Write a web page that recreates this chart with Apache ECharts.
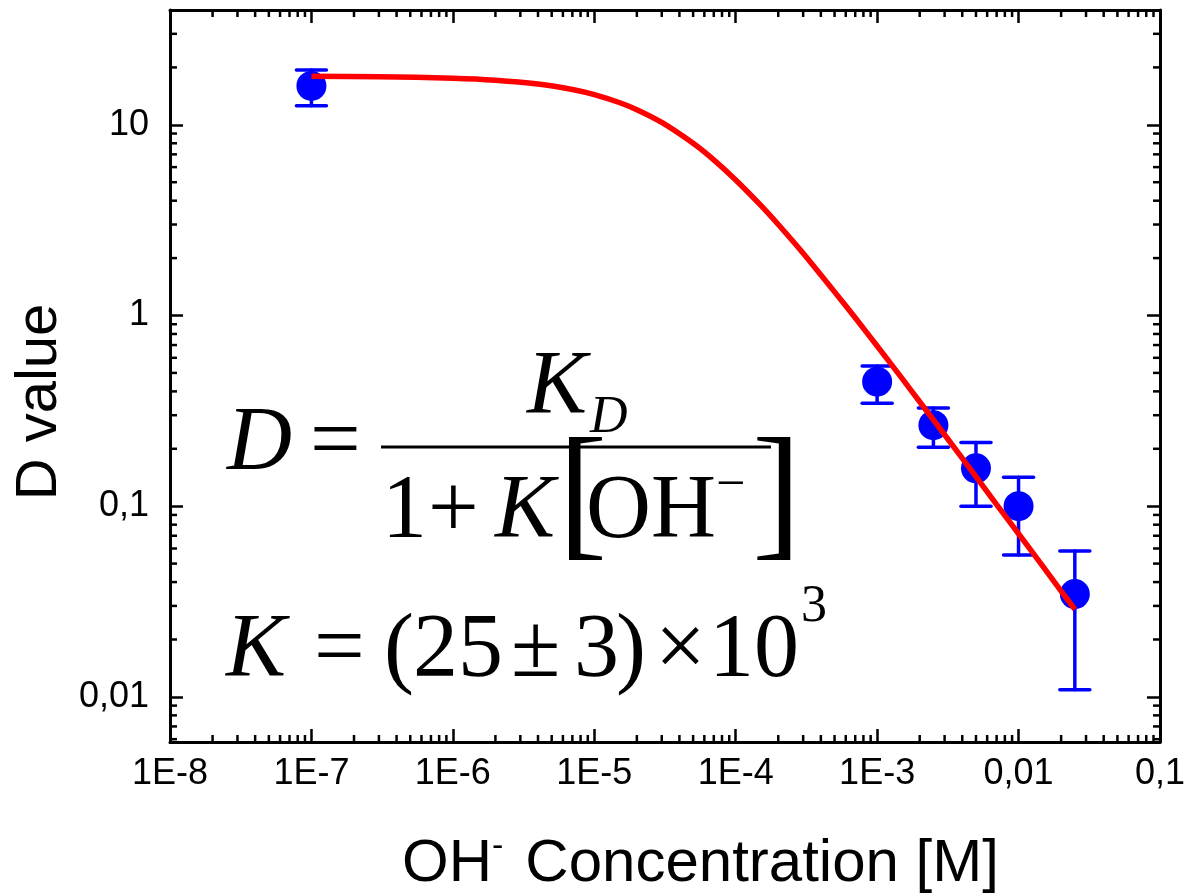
<!DOCTYPE html>
<html>
<head>
<meta charset="UTF-8">
<title>D value vs OH- concentration</title>
<script src="https://cdn.jsdelivr.net/npm/echarts@6/dist/echarts.min.js"></script>
<style>
  html, body { margin: 0; padding: 0; background: #fff; }
  #main { width: 1188px; height: 895px; }
</style>
</head>
<body>
<div id="main"></div>
<script type="text/javascript">
// measured points: concentration [M], D value, lower and upper end of the error bar
var concentration = [1e-7, 1e-3, 2.5e-3, 5e-3, 1e-2, 2.5e-2];
var dValue = [16.0, 0.45, 0.266, 0.158, 0.100, 0.0346];
var dLow = [12.6, 0.347, 0.204, 0.100, 0.0554, 0.0109];
var dHigh = [19.4, 0.543, 0.327, 0.216, 0.142, 0.0583];

// red fit line
var fitX = [1e-7, 3e-7, 1e-6, 2e-6, 4e-6, 7e-6, 1e-5, 1.5e-5, 2e-5, 3e-5, 5e-5, 7e-5, 1e-4, 1.5e-4,
            2e-4, 3e-4, 5e-4, 7e-4, 1e-3, 1.5e-3, 2e-3, 3e-3, 5e-3, 7e-3, 1e-2, 1.5e-2, 2e-2, 2.5e-2];
var fitY = [17.96, 17.87, 17.56, 17.14, 16.36, 15.32, 14.4, 13.09, 12.0, 10.29, 8.0, 6.55, 5.14, 3.79,
            3.0, 2.12, 1.33, 0.973, 0.692, 0.468, 0.353, 0.237, 0.143, 0.102, 0.0717, 0.0479, 0.0359, 0.0288];

// tick labels, one per decade from the lowest one
var xTickLabels = ['1E-8', '1E-7', '1E-6', '1E-5', '1E-4', '1E-3', '0,01', '0,1'];
var yTickLabels = ['0,01', '0,1', '1', '10'];
var minorSteps = [2, 3, 4, 5, 6, 7, 8, 9];

var X_MIN = 1e-8, X_MAX = 0.1;
var Y_MIN = 0.0058, Y_MAX = 40;

var sans = '"Liberation Sans", Arial, Helvetica, sans-serif';
var serif = '"Liberation Serif", "Times New Roman", serif';

function decadeLabel(labels, firstExp) {
    return function (v) {
        var e = Math.log10(v);
        var r = Math.round(e);
        if (Math.abs(e - r) > 1e-6) return '';
        return labels[r - firstExp] || '';
    };
}

function logAxis(pos, min, max, labels, firstExp, margin) {
    return {
        type: 'log', logBase: 10, position: pos, min: min, max: max, splitNumber: 10,
        axisLine: { show: true, onZero: false, lineStyle: { color: '#000', width: 3 } },
        axisTick: { show: true, inside: true, length: 13, lineStyle: { color: '#000', width: 2.5 } },
        axisLabel: {
            show: !!labels, margin: margin, color: '#000', fontFamily: sans, fontSize: 36,
            formatter: labels ? decadeLabel(labels, firstExp) : ''
        },
        splitLine: { show: false },
        minorTick: { show: false }
    };
}

// minor tick positions (2..9 inside each decade)
var xMinor = [], yMinor = [];
for (var e = -8; e < -1; e++) {
    minorSteps.forEach(function (m) { xMinor.push([m * Math.pow(10, e), 1]); });
}
for (var e2 = -3; e2 < 2; e2++) {
    minorSteps.forEach(function (m) {
        var v = m * Math.pow(10, e2);
        if (v > Y_MIN && v < Y_MAX) yMinor.push([1e-5, v]);
    });
}

var tickStyle = { stroke: '#000', lineWidth: 2.5 };

function xMinorItem(params, api) {
    var cs = params.coordSys;
    var px = api.coord([api.value(0), 1])[0];
    return { type: 'group', children: [
        { type: 'line', shape: { x1: px, y1: cs.y + cs.height, x2: px, y2: cs.y + cs.height - 7 }, style: tickStyle },
        { type: 'line', shape: { x1: px, y1: cs.y, x2: px, y2: cs.y + 7 }, style: tickStyle }
    ] };
}

function yMinorItem(params, api) {
    var cs = params.coordSys;
    var py = api.coord([1e-5, api.value(1)])[1];
    return { type: 'group', children: [
        { type: 'line', shape: { x1: cs.x, y1: py, x2: cs.x + 7, y2: py }, style: tickStyle },
        { type: 'line', shape: { x1: cs.x + cs.width, y1: py, x2: cs.x + cs.width - 7, y2: py }, style: tickStyle }
    ] };
}

function errorBarItem(params, api) {
    var top = api.coord([api.value(0), api.value(2)]);
    var bot = api.coord([api.value(0), api.value(1)]);
    var hw = 15;
    var st = { stroke: '#0000ff', lineWidth: 3.5, lineCap: 'round' };
    return { type: 'group', children: [
        { type: 'line', shape: { x1: top[0], y1: top[1], x2: bot[0], y2: bot[1] }, style: st },
        { type: 'line', shape: { x1: top[0] - hw, y1: top[1], x2: top[0] + hw, y2: top[1] }, style: st },
        { type: 'line', shape: { x1: bot[0] - hw, y1: bot[1], x2: bot[0] + hw, y2: bot[1] }, style: st }
    ] };
}

// one piece of the formula, placed by its baseline
function ft(str, x, base, size, italic) {
    return {
        type: 'text', x: x, y: base - 0.26 * size, silent: true,
        style: {
            text: str, fill: '#000',
            font: (italic ? 'italic ' : '') + size + 'px ' + serif,
            align: 'left', verticalAlign: 'middle', textAlign: 'left', textVerticalAlign: 'middle'
        }
    };
}

var FS = 90, SUB = 52;
var formula = [
    ft('D', 227, 469, FS, true),
    ft('=', 310, 469, FS, false),
    ft('K', 527, 413, FS, true),
    ft('D', 590, 432, SUB, true),
    { type: 'line', silent: true, shape: { x1: 381, y1: 447, x2: 771, y2: 447 }, style: { stroke: '#000', lineWidth: 3 } },
    ft('1', 382, 537, FS, false),
    ft('+', 428, 537, FS, false),
    ft('K', 495, 537, FS, true),
    ft('[', 558, 540, 148, false),
    ft('OH', 586, 537, FS, false),
    ft('\u2212', 716, 500, SUB, false),
    ft(']', 752, 540, 148, false),
    ft('K', 226, 676, FS, true),
    ft('=', 314, 676, FS, false),
    ft('(', 384, 676, FS, false),
    ft('25', 413, 676, FS, false),
    ft('\u00B1', 511, 676, FS, false),
    ft('3', 574, 676, FS, false),
    ft(')', 616, 676, FS, false),
    ft('\u00D7', 655, 676, FS, false),
    ft('10', 709, 676, FS, false),
    ft('3', 801, 621, SUB, false)
];

var titles = [
    {
        type: 'text', x: 40, y: 402, rotation: Math.PI / 2, silent: true,
        style: { text: 'D value', fill: '#000', font: '58px ' + sans, align: 'center', verticalAlign: 'middle', textAlign: 'center', textVerticalAlign: 'middle' }
    },
    {
        type: 'text', x: 402, y: 881 - 0.27 * 60, silent: true,
        style: { text: 'OH  Concentration [M]', fill: '#000', font: '60px ' + sans, align: 'left', verticalAlign: 'middle', textAlign: 'left', textVerticalAlign: 'middle' }
    },
    {
        type: 'text', x: 492, y: 856 - 0.27 * 34, silent: true,
        style: { text: '-', fill: '#000', font: '34px ' + sans, align: 'left', verticalAlign: 'middle', textAlign: 'left', textVerticalAlign: 'middle' }
    }
];

var myChart = echarts.init(document.getElementById('main'), null, { renderer: 'canvas' });

var option = {
    backgroundColor: '#FFFFFF',
    animation: false,
    grid: { left: 170, right: 25, top: 10, bottom: 153, containLabel: false },
    xAxis: [
        logAxis('bottom', X_MIN, X_MAX, xTickLabels, -8, 14),
        logAxis('top', X_MIN, X_MAX, null, -8, 0)
    ],
    yAxis: [
        logAxis('left', Y_MIN, Y_MAX, yTickLabels, -2, 21),
        logAxis('right', Y_MIN, Y_MAX, null, -2, 0)
    ],
    graphic: formula.concat(titles),
    series: [
        { type: 'custom', name: 'xminor', renderItem: xMinorItem, data: xMinor, encode: { x: 0, y: 1 }, silent: true, z: 1 },
        { type: 'custom', name: 'yminor', renderItem: yMinorItem, data: yMinor, encode: { x: 0, y: 1 }, silent: true, z: 1 },
        {
            type: 'custom', name: 'error', renderItem: errorBarItem, z: 2, silent: true,
            data: concentration.map(function (c, i) { return [c, dLow[i], dHigh[i]]; }),
            encode: { x: 0, y: [1, 2] }
        },
        {
            type: 'scatter', name: 'D', z: 3, symbol: 'circle', symbolSize: 30,
            itemStyle: { color: '#0000ff', opacity: 1 },
            data: concentration.map(function (c, i) { return [c, dValue[i]]; })
        },
        {
            type: 'line', name: 'fit', z: 4, showSymbol: false, symbol: 'none', smooth: 0.2,
            lineStyle: { color: '#ff0000', width: 5.5 },
            data: fitX.map(function (x, i) { return [x, fitY[i]]; })
        }
    ]
};

myChart.setOption(option);
</script>
</body>
</html>
